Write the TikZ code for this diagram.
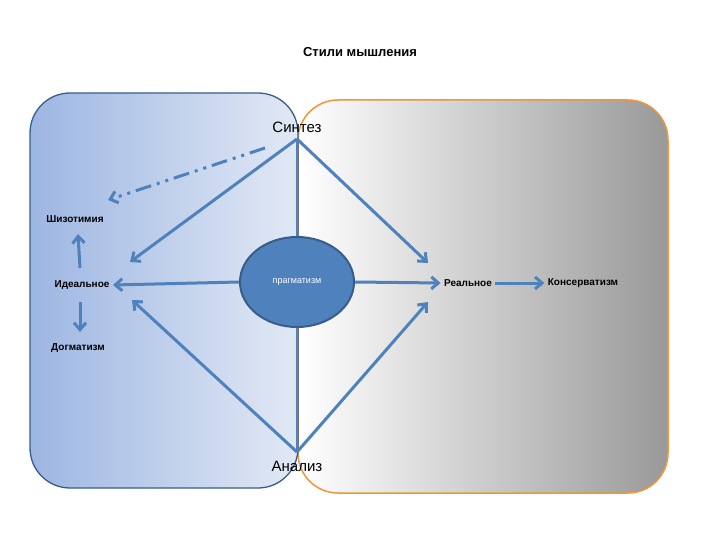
\documentclass[tikz,border=0pt]{standalone}
\usepackage{fontspec}
\setmainfont{Liberation Sans}
\usetikzlibrary{arrows.meta,shapes.geometric}
\definecolor{ar}{HTML}{4F81BD}
\definecolor{lb}{HTML}{9DB6E2}
\definecolor{rb}{HTML}{E2E9F5}
\begin{document}
\begin{tikzpicture}[x=1pt,y=-1pt,
  conn/.style={draw=ar,line width=3pt,-{Straight Barb[length=7pt,width=12pt]}},
  lab/.style={font=\bfseries\fontsize{10}{12}\selectfont},
  big/.style={font=\fontsize{15}{17}\selectfont}]
\useasboundingbox (0,0) rectangle (720,540);
\shade[left color=white,right color=black!40,rounded corners=40pt] (298,100) rectangle (668,493);
\draw[draw={rgb,255:red,240;green,150;blue,58},line width=1.5pt,rounded corners=40pt] (298,100) rectangle (668,493);
\shade[left color=lb,right color=rb,rounded corners=40pt] (30,93) rectangle (298,488);
\draw[draw={rgb,255:red,56;green,93;blue,138},line width=1.3pt,rounded corners=40pt] (30,93) rectangle (298,488);
\node[font=\bfseries\fontsize{13}{15}\selectfont] (title) at (360,52) {Стили мышления};
\node[big] (sin) at (297,127) {Синтез};
\node[big] (an) at (297,466) {Анализ};
\node[lab] (id) at (82,285) {Идеальное};
\node[lab] (shi) at (75,219) {Шизотимия};
\node[lab] (dog) at (78,348) {Догматизм};
\node[lab] (re) at (468,283) {Реальное};
\node[lab] (kon) at (583,283) {Консерватизм};
\coordinate (s0) at (297,139);
\coordinate (a0) at (297,452);
\draw[ar,line width=2pt] (s0) -- (a0);
\node[ellipse,draw={rgb,255:red,56;green,93;blue,138},line width=2pt,fill=ar,minimum width=114pt,minimum height=90pt,text=white,font=\fontsize{9}{11}\selectfont] (pr) at (297,282) {прагматизм};
\coordinate (ds) at (265,148);
\coordinate (de) at (108,200);
\draw[conn,dash pattern=on 16pt off 6pt on 3pt off 6pt on 3pt off 6pt] (ds) -- (de);
\coordinate (i1) at (130,262);
\coordinate (i2) at (132,300);
\coordinate (r1) at (428,263);
\coordinate (r2) at (428,302);
\coordinate (iu) at (80,268);
\coordinate (su) at (78,234);
\coordinate (idn) at (80,302);
\coordinate (dn) at (80,332);
\draw[conn] (s0) -- (i1);
\draw[conn] (s0) -- (r1);
\draw[conn] (a0) -- (i2);
\draw[conn] (a0) -- (r2);
\draw[conn] (pr.west) -- (id.east);
\draw[conn] (pr.east) -- (re.west);
\draw[conn] (iu) -- (su);
\draw[conn] (idn) -- (dn);
\draw[conn] (re.east) -- (kon.west);
\end{tikzpicture}
\end{document}
